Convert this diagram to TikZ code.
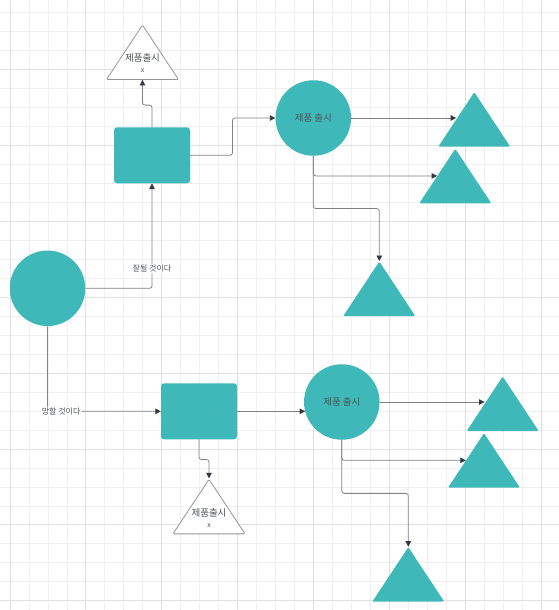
\documentclass[tikz,border=0pt]{standalone}
\usepackage{fontspec}
\usepackage{tikz}
\usetikzlibrary{shapes.geometric, arrows.meta, positioning}
\newfontfamily\kr{Noto Sans CJK KR}
\definecolor{tealfill}{RGB}{62,184,185}
\definecolor{gridlo}{RGB}{240,240,240}
\definecolor{gridhi}{RGB}{224,224,224}
\definecolor{linkgray}{RGB}{128,130,136}
\definecolor{tipdark}{RGB}{52,56,66}
\definecolor{inkgray}{RGB}{80,84,88}
\definecolor{edgegray}{RGB}{150,150,150}
\tikzset{
  gridminor/.style={draw=gridlo, line width=0.8pt},
  gridmajor/.style={draw=gridhi, line width=0.9pt},
  boxnode/.style  ={rectangle, rounded corners=3pt, fill=tealfill, minimum width=76pt,
                    minimum height=56pt, inner sep=0pt},
  circnode/.style ={circle, fill=tealfill, minimum size=75.5pt, inner sep=0pt,
                    font=\kr\fontsize{9.5}{11}\selectfont, text=inkgray},
  trinode/.style  ={isosceles triangle, isosceles triangle stretches, shape border rotate=90,
                    minimum width=72pt, minimum height=54.5pt, inner sep=0pt, anchor=apex,
                    rounded corners=1.2pt},
  trifill/.style  ={trinode, fill=tealfill},
  tripale/.style  ={trinode, fill=white, draw=edgegray, line width=0.8pt},
  tritext/.style  ={align=center, text=inkgray, font=\kr\fontsize{9.5}{11}\selectfont, inner sep=0pt},
  lbl/.style      ={fill=white, inner sep=1pt, text=inkgray, font=\kr\fontsize{8}{10}\selectfont},
  link/.style     ={draw=linkgray, line width=0.8pt, rounded corners=2.5pt,
                    -{Triangle[length=5.5pt, width=5.5pt, color=tipdark]}},
}

\begin{document}
\begin{tikzpicture}[x=1pt, y=-1pt]
\useasboundingbox (0,0) rectangle (559,610);
\fill[white] (0,0) rectangle (559,610);
% background grid
\foreach \k in {0,...,28} \draw[gridminor] ({10+18.97*\k},0) -- ({10+18.97*\k},610);
\foreach \k in {0,...,31} \draw[gridminor] (0,{12.7+18.97*\k}) -- (559,{12.7+18.97*\k});
\foreach \k in {0,...,7} \draw[gridmajor] ({10+75.88*\k},0) -- ({10+75.88*\k},610);
\foreach \k in {0,...,7} \draw[gridmajor] (0,{69.6+75.88*\k}) -- (559,{69.6+75.88*\k});

\node[circnode] (start) at (47.5,288.3) {};
% upper branch
\node[boxnode] (boxA) at (152,155.3) {};
\node[tripale] (noteA) at (142.5,24) {};
\node[tritext] (noteAtxt) at ([yshift=-39.5pt]noteA.apex) {제품출시\\{\fontsize{7}{8}\selectfont x}};
\node[circnode] (launchA) at (313.3,118) {제품 출시};
\node[trifill] (outA1) at (474.3,91.7) {};
\node[trifill] (outA2) at (455.3,148.3) {};
\node[trifill] (outA3) at (379.3,261) {};
% lower branch
\node[boxnode] (boxB) at (199,411.3) {};
\node[tripale] (noteB) at (209,478.3) {};
\node[tritext] (noteBtxt) at ([yshift=-39.5pt]noteB.apex) {제품출시\\{\fontsize{7}{8}\selectfont x}};
\node[circnode] (launchB) at (341.8,402) {제품 출시};
\node[trifill] (outB1) at (502.7,376) {};
\node[trifill] (outB2) at (484,432.7) {};
\node[trifill] (outB3) at (408.3,546.7) {};

\draw[link] (start.east) -| (boxA.south) node[lbl, pos=0.595] {잘될 것이다};
\draw[link] (start.south) |- (boxB.west) node[lbl, pos=0.56] {망할 것이다};
\draw[link] (boxA.north) -- ++(0,-22) -| (noteA.lower side);
\draw[link] (boxA.east) -- ++(42.3,0) |- (launchA.west);
\draw[link] (launchA.east) -- (launchA.east -| outA1.left side);
\draw[link] (launchA.south) |- (outA2.left side);
\draw[link] (launchA.south) -- ++(0,52.6) -| (outA3.apex);
\draw[link] (boxB.south) -- ++(0,20) -| (noteB.apex);
\draw[link] (boxB.east) -- (boxB.east -| launchB.195);
\draw[link] (launchB.east) -- (launchB.east -| outB1.left side);
\draw[link] (launchB.south) |- (outB2.left side);
\draw[link] (launchB.south) -- ++(0,53.4) -| (outB3.apex);
\end{tikzpicture}
\end{document}
